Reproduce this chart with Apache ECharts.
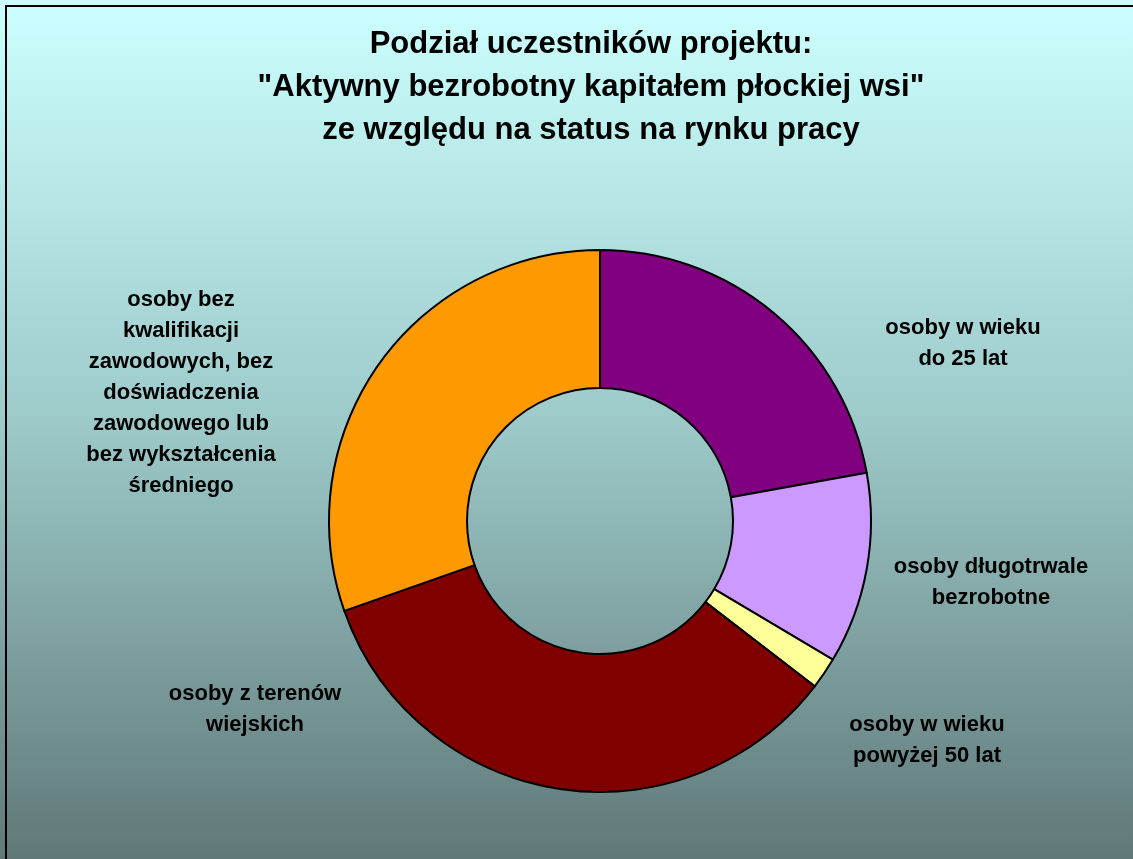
<!DOCTYPE html>
<html>
<head>
<meta charset="utf-8">
<script src="https://cdn.jsdelivr.net/npm/echarts@6/dist/echarts.min.js"></script>
<style>
html,body{margin:0;padding:0;background:#fff;}
#chart{width:1133px;height:859px;}
</style>
</head>
<body>
<div id="chart"></div>
<script>
const titleLines = ['Podział uczestników projektu:', '"Aktywny bezrobotny kapitałem płockiej wsi"', 'ze względu na status na rynku pracy'];
const categories = [
  'osoby w wieku\ndo 25 lat',
  'osoby długotrwale\nbezrobotne',
  'osoby w wieku\npowyżej 50 lat',
  'osoby z terenów\nwiejskich',
  'osoby bez\nkwalifikacji\nzawodowych, bez\ndoświadczenia\nzawodowego lub\nbez wykształcenia\nśredniego'
];
const values = [35, 18, 3, 54, 48];
const colors = ['#800080', '#CC99FF', '#FFFF99', '#800000', '#FF9900'];
// label anchor positions (layout only)
const labelPos = [[963, 343], [991, 582], [927, 740], [255, 709], [181, 393]];

const chart = echarts.init(document.getElementById('chart'), null, {renderer: 'canvas'});
const font = '"Liberation Sans", Arial, sans-serif';
chart.setOption({
  animation: false,
  backgroundColor: {
    type: 'linear', x: 0, y: 0, x2: 0, y2: 1,
    colorStops: [
      {offset: 0, color: '#CCFFFF'},
      {offset: 0.5, color: '#9CC8C8'},
      {offset: 1, color: '#607878'}
    ]
  },
  graphic: [{
    type: 'rect',
    shape: {x: 6, y: 6, width: 1140, height: 870},
    style: {fill: 'none', stroke: '#000', lineWidth: 2},
    silent: true
  }],
  title: {
    text: titleLines.join('\n'),
    left: 586,
    top: 18,
    textAlign: 'center',
    textStyle: {
      fontFamily: font,
      fontWeight: 'bold',
      fontSize: 31,
      lineHeight: 43,
      color: '#000'
    }
  },
  series: [{
    type: 'pie',
    center: [600, 521],
    radius: [133, 271],
    startAngle: 90,
    clockwise: true,
    avoidLabelOverlap: false,
    itemStyle: {borderColor: '#000', borderWidth: 2},
    label: {
      show: true,
      position: 'inside',
      formatter: '{b}',
      fontFamily: font,
      fontWeight: 'bold',
      fontSize: 22,
      lineHeight: 31,
      color: '#000',
      align: 'center',
      verticalAlign: 'middle'
    },
    labelLine: {show: false},
    labelLayout: function (p) {
      const pos = labelPos[p.dataIndex];
      return {x: pos[0], y: pos[1], align: 'center', verticalAlign: 'middle'};
    },
    emphasis: {disabled: true},
    data: categories.map((c, i) => ({
      name: c, value: values[i], itemStyle: {color: colors[i]}
    }))
  }]
});
</script>
</body>
</html>
